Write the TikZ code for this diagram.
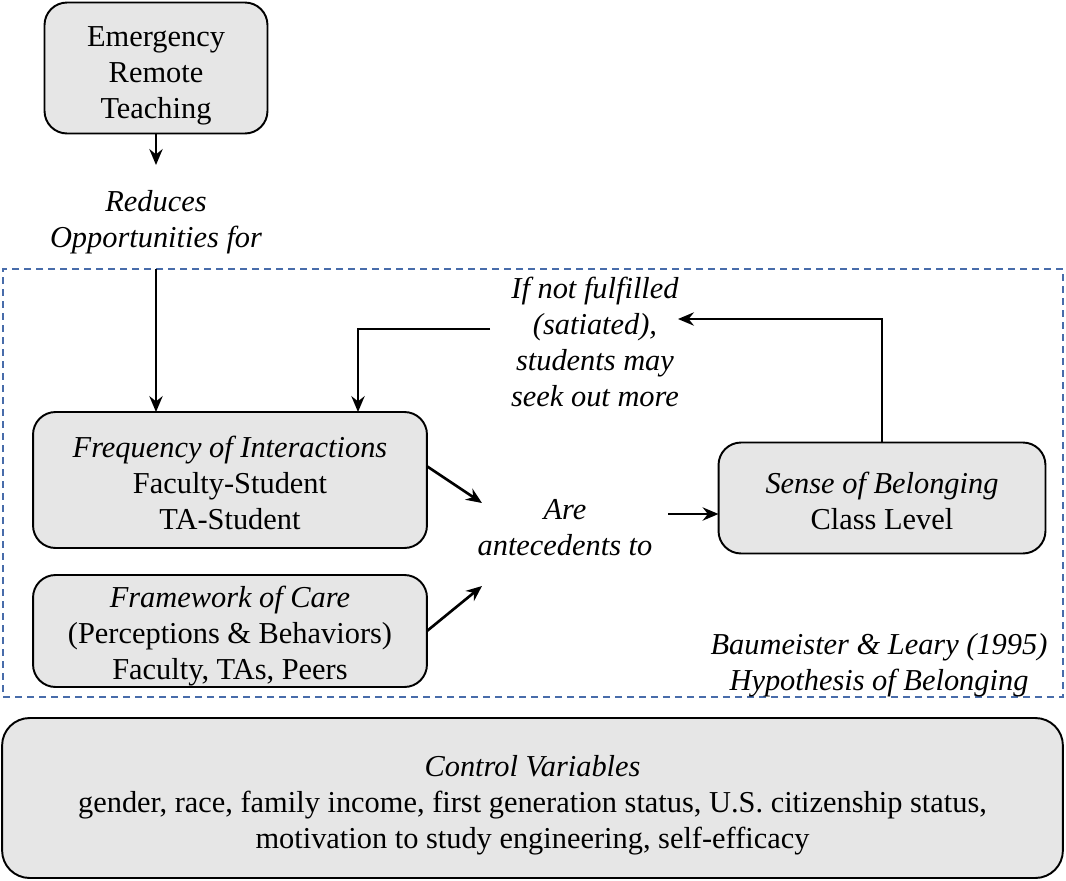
\documentclass[tikz,border=0pt]{standalone}
\usepackage{fontspec}
\setmainfont{Liberation Serif}
\usetikzlibrary{arrows.meta}
\definecolor{boxgray}{RGB}{230,230,230}
\definecolor{dashblue}{RGB}{72,108,170}
\begin{document}
\begin{tikzpicture}[x=0.02cm,y=-0.02cm,inner sep=0pt,outer sep=0pt,line width=1.1pt,
>={Stealth[length=9pt,width=7.5pt]},
link/.style={->,line width=1.5pt},
varblock/.style={draw,rectangle,rounded corners=0.45cm,fill=boxgray,align=center,font=\fontsize{17.3}{20.5}\selectfont},
note/.style={align=center,font=\fontsize{17.3}{20.5}\selectfont\itshape}]
\useasboundingbox (0,0) rectangle (1066,880);
\draw (533,483) node[draw,dashed,dashblue,line width=0.7pt,dash pattern=on 0.14cm off 0.1cm,minimum width=21.2cm,minimum height=8.56cm] (hob) {};
\draw (156,68) node[varblock,minimum width=4.46cm,minimum height=2.62cm] (ert) {\rule{0pt}{0.7cm}Emergency\\Remote\\Teaching};
\draw (156,222) node[note] (reduce) {Reduces\\Opportunities for};
\draw (230,480) node[varblock,minimum width=7.88cm,minimum height=2.72cm] (freq) {\rule{0pt}{0.54cm}\textit{Frequency of Interactions}\\Faculty-Student\\TA-Student};
\draw (230,631) node[varblock,minimum width=7.88cm,minimum height=2.24cm] (care) {\rule{0pt}{0.64cm}\textit{Framework of Care}\\(Perceptions \& Behaviors)\\Faculty, TAs, Peers};
\draw (565,528) node[note] (ante) {Are\\antecedents to};
\draw (882,498) node[varblock,minimum width=6.54cm,minimum height=2.22cm] (belong) {\rule{0pt}{0.54cm}\textit{Sense of Belonging}\\Class Level};
\draw (595,342) node[note] (seek) {If not fulfilled\\(satiated),\\students may\\seek out more};
\draw (879,665) node[note] (cite) {Baumeister \& Leary (1995)\\Hypothesis of Belonging};
\draw (532.5,798) node[varblock,rounded corners=0.55cm,minimum width=21.22cm,minimum height=3.2cm] (ctrl) {\rule{0pt}{0.7cm}\textit{Control Variables}\\gender, race, family income, first generation status, U.S. citizenship status,\\motivation to study engineering, self-efficacy};
\draw[link] (ert.south) -- ([shift={(0,-57)}]reduce.center);
\draw[link] (ert.south |- hob.north) -- (ert.south |- freq.north);
\draw[link] (freq.4) -- ([shift={(-83,-25)}]ante.center);
\draw[link] (care.east) -- ([shift={(-83,58)}]ante.center);
\draw[link] ([shift={(103,-14)}]ante.center) coordinate (a1) -- (a1 -| belong.west);
\draw[link] (belong.north) |- ([shift={(83,-23)}]seek.center);
\draw[link] ([shift={(-105,-13)}]seek.center) -| ([shift={(128,0)}]freq.north);
\end{tikzpicture}
\end{document}
